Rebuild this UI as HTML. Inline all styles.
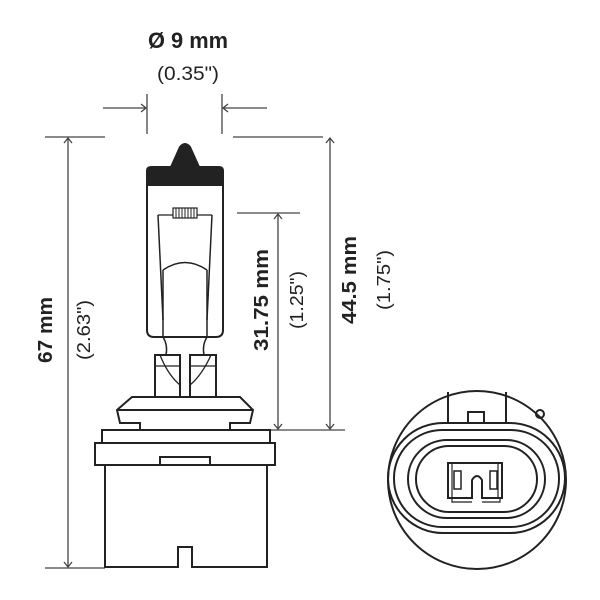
<!DOCTYPE html>
<html><head><style>body{margin:0;background:#fff}svg{display:block}</style></head><body>
<svg width="600" height="600" viewBox="0 0 600 600" xmlns="http://www.w3.org/2000/svg" font-family="Liberation Sans, sans-serif" fill="none" stroke="#222">
<rect width="600" height="600" fill="#fff" stroke="none"/>
<!-- top dimension -->
<text x="188" y="48" font-size="22" font-weight="bold" fill="#222" stroke="none" text-anchor="middle" textLength="80" lengthAdjust="spacingAndGlyphs">Ø 9 mm</text>
<text x="188" y="80" font-size="19" fill="#222" stroke="none" text-anchor="middle" textLength="62" lengthAdjust="spacingAndGlyphs">(0.35")</text>
<g stroke-width="1.3" stroke="#444">
<line x1="147" y1="94" x2="147" y2="134"/><line x1="222" y1="94" x2="222" y2="134"/>
<line x1="103" y1="108" x2="146" y2="108"/><path d="M141 104 L146 108 L141 112"/>
<line x1="267" y1="108" x2="223" y2="108"/><path d="M228 104 L223 108 L228 112"/>
<!-- 67 -->
<line x1="45" y1="137" x2="105" y2="137"/><line x1="45" y1="568" x2="105" y2="568"/>
<line x1="68" y1="138" x2="68" y2="567"/><path d="M64 143 L68 138 L72 143 M64 562 L68 567 L72 562"/>
<!-- 44.5 -->
<line x1="233" y1="137" x2="323" y2="137"/><line x1="268" y1="430" x2="345" y2="430"/>
<line x1="330" y1="138" x2="330" y2="429"/><path d="M326 143 L330 138 L334 143 M326 424 L330 429 L334 424"/>
<!-- 31.75 -->
<line x1="237" y1="213" x2="300" y2="213"/>
<line x1="278" y1="214" x2="278" y2="429"/><path d="M274 219 L278 214 L282 219 M274 424 L278 429 L282 424"/>
</g>
<g fill="#222" stroke="none">
<text transform="translate(52,330) rotate(-90)" font-size="20" font-weight="bold" text-anchor="middle" textLength="66" lengthAdjust="spacingAndGlyphs">67 mm</text>
<text transform="translate(90,330) rotate(-90)" font-size="18" text-anchor="middle" textLength="60" lengthAdjust="spacingAndGlyphs">(2.63")</text>
<text transform="translate(268,300) rotate(-90)" font-size="20" font-weight="bold" text-anchor="middle" textLength="102" lengthAdjust="spacingAndGlyphs">31.75 mm</text>
<text transform="translate(303,300) rotate(-90)" font-size="18" text-anchor="middle" textLength="58" lengthAdjust="spacingAndGlyphs">(1.25")</text>
<text transform="translate(356,280) rotate(-90)" font-size="20" font-weight="bold" text-anchor="middle" textLength="88" lengthAdjust="spacingAndGlyphs">44.5 mm</text>
<text transform="translate(390,280) rotate(-90)" font-size="18" text-anchor="middle" textLength="60" lengthAdjust="spacingAndGlyphs">(1.75")</text>
</g>
<!-- bulb -->
<g stroke-width="2" stroke="#222">
<path d="M147 185 L147 330 Q147 337 154 337 L216 337 Q223 337 223 330 L223 185"/>
<path d="M147 185 L147 171 Q147 167 151 167 L171 167 L180 147 Q185 141 190 147 L199 167 L219 167 Q223 167 223 171 L223 185 Z" fill="#222"/>
<path d="M158 215 L163 320 M212 215 L207 320" stroke-width="1.5"/>
<path d="M163 270 Q185 255 207 270 M163 270 L163 337 M207 270 L207 337" stroke-width="1.5"/>
<line x1="158" y1="215" x2="212" y2="215" stroke-width="1.2"/>
<rect x="173" y="208" width="24" height="10" fill="#fff" stroke-width="1.2"/>
<path d="M176 208v10M179 208v10M182 208v10M185 208v10M188 208v10M191 208v10M194 208v10" stroke-width="1"/>
<path d="M163 337 Q168 345 166 355 M207 337 Q202 345 204 355" stroke-width="1.5"/>
<rect x="155" y="355" width="25" height="42"/><rect x="190" y="355" width="26" height="42"/>
<path d="M155 366 L180 366 M190 366 L216 366 M160 355 Q168 375 180 385 M211 355 Q202 375 190 385" stroke-width="1.3"/>
<path d="M132 397 L240 397 L253 410 L250 423 L230 423 L230 430 L140 430 L140 423 L120 423 L117 410 Z"/>
<line x1="117" y1="410" x2="253" y2="410"/>
<rect x="102" y="430" width="168" height="13"/>
<rect x="95" y="443" width="180" height="22"/>
<rect x="160" y="457" width="50" height="8"/>
<path d="M105 465 L105 567 L178 567 L178 547 L192 547 L192 567 L267 567 L267 465"/>
</g>
<!-- connector -->
<g stroke-width="2" stroke="#222">
<circle cx="477" cy="480" r="89"/>
<rect x="388" y="423" width="177" height="110" rx="55"/>
<rect x="394" y="430" width="165" height="97" rx="48"/>
<rect x="408" y="440" width="137" height="78" rx="39"/>
<rect x="416" y="446" width="121" height="66" rx="33"/>
<path d="M448 423 L448 392 M506 423 L506 392"/>
<rect x="468" y="412" width="16" height="11"/>
<circle cx="540" cy="414" r="4"/>
<path d="M448 463 L502 463 L502 498 L482 498 L482 480 Q477 472 472 480 L472 498 L448 498 Z"/>
<path d="M452 463 L452 498 M498 463 L498 498" stroke-width="1.2"/>
<rect x="454" y="471" width="7" height="18" stroke-width="1.5"/>
<rect x="490" y="471" width="7" height="18" stroke-width="1.5"/>
<path d="M452 498 L452 502 L472 502 M482 502 L500 502 L500 498" stroke-width="1.2"/>
</g>
</svg>
</body></html>
